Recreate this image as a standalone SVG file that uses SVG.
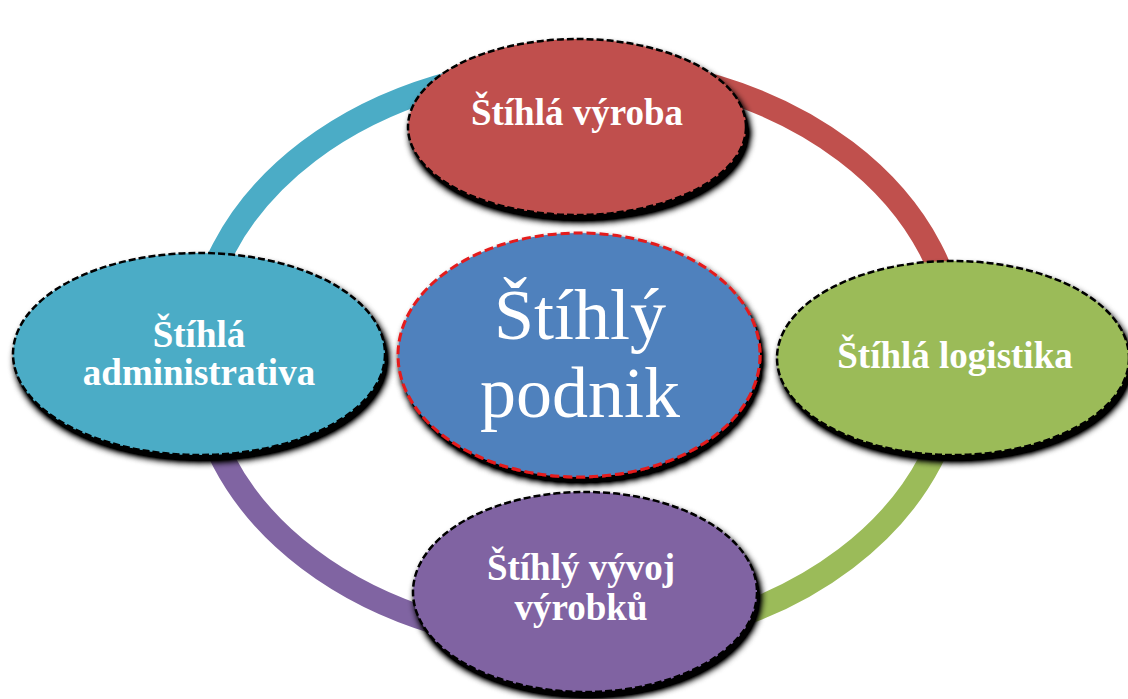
<svg xmlns="http://www.w3.org/2000/svg" width="1128" height="699" viewBox="0 0 1128 699">
  <style>
    .ring { fill: none; stroke-width: 24; }
    .node { stroke: #000; stroke-width: 2.5; stroke-dasharray: 7 3; filter: url(#shadow); }
    .core { stroke: #E41A1C; stroke-width: 3; stroke-dasharray: 9 4; filter: url(#shadow); }
    .lbl { font-family: "Liberation Serif", "Times New Roman", serif; font-weight: bold; font-size: 37px; fill: #fff; text-anchor: middle; }
    .big { font-family: "Liberation Serif", "Times New Roman", serif; font-size: 72px; fill: #fff; text-anchor: middle; }
  </style>
  <defs>
    <!-- dense black drop shadow below and right of each ellipse -->
    <filter id="shadow" x="-10%" y="-10%" width="125%" height="130%">
      <feGaussianBlur in="SourceAlpha" stdDeviation="3.5" result="b"/>
      <feOffset in="b" dx="3" dy="6" result="o"/>
      <feComponentTransfer in="o" result="s">
        <feFuncA type="linear" slope="1.6"/>
      </feComponentTransfer>
      <feMerge>
        <feMergeNode in="s"/>
        <feMergeNode in="SourceGraphic"/>
      </feMerge>
    </filter>
  </defs>
  <rect width="1128" height="699" fill="#fff"/>

  <!-- cycle ring, one coloured quarter per link -->
  <g id="connectors">
    <path class="ring" stroke="#4BACC6" d="M197,355 A380,288 0 0 1 577,67"/>
    <path class="ring" stroke="#C0504D" d="M577,67 A380,288 0 0 1 957,355"/>
    <path class="ring" stroke="#9BBB59" d="M957,355 A380,288 0 0 1 577,643"/>
    <path class="ring" stroke="#8064A2" d="M577,643 A380,288 0 0 1 197,355"/>
  </g>

  <g id="node-vyroba">
    <ellipse class="node" cx="577" cy="127" rx="169" ry="88" fill="#C0504D"/>
    <text class="lbl" x="577" y="125">Štíhlá výroba</text>
  </g>

  <g id="node-administrativa">
    <ellipse class="node" cx="199" cy="354" rx="186" ry="101" fill="#4BACC6"/>
    <text class="lbl" x="199" y="347">Štíhlá</text>
    <text class="lbl" x="199" y="385">administrativa</text>
  </g>

  <g id="node-logistika">
    <ellipse class="node" cx="953" cy="358" rx="176" ry="97" fill="#9BBB59"/>
    <text class="lbl" x="955" y="368">Štíhlá logistika</text>
  </g>

  <g id="node-vyvoj">
    <ellipse class="node" cx="585" cy="592" rx="172" ry="100" fill="#8064A2"/>
    <text class="lbl" x="581" y="580">Štíhlý vývoj</text>
    <text class="lbl" x="581" y="620">výrobků</text>
  </g>

  <g id="node-podnik">
    <ellipse class="core" cx="579" cy="355" rx="181" ry="122" fill="#4F81BD"/>
    <text class="big" x="580" y="339">Štíhlý</text>
    <text class="big" x="580" y="417">podnik</text>
  </g>
</svg>
